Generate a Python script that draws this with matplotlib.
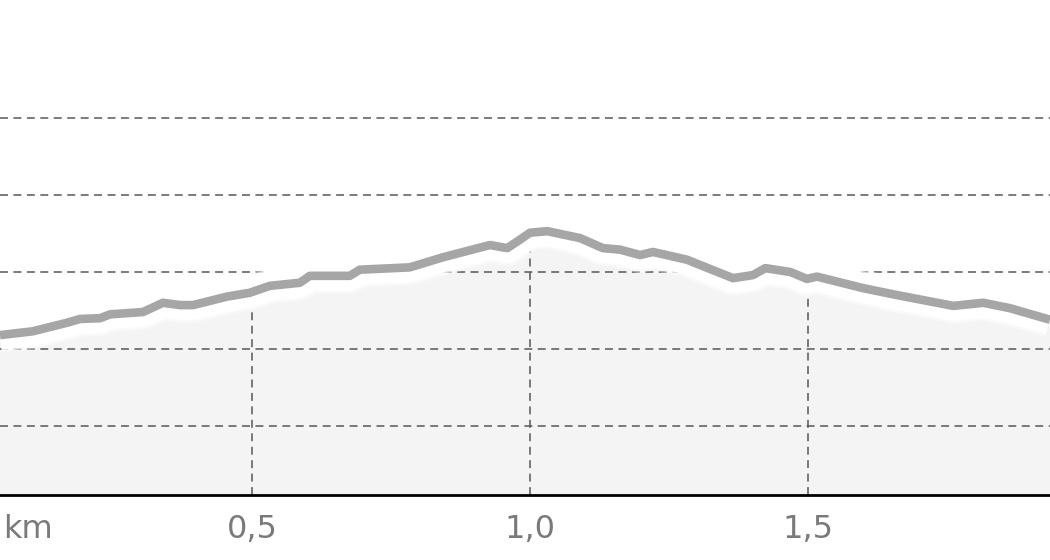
import numpy as np
import matplotlib
matplotlib.use("Agg")
import matplotlib.pyplot as plt

# elevation profile (distance in km, elevation in m)
dist_km = [0.047, 0.106, 0.167, 0.191, 0.227, 0.245, 0.304, 0.340, 0.371, 0.394,
           0.455, 0.496, 0.532, 0.586, 0.604, 0.676, 0.694, 0.784, 0.843, 0.928,
           0.959, 0.982, 1.000, 1.031, 1.090, 1.131, 1.162, 1.198, 1.221, 1.282,
           1.365, 1.401, 1.423, 1.468, 1.498, 1.516, 1.599, 1.660, 1.761, 1.815,
           1.863, 1.935]
elev_m = [111.8, 112.3, 113.4, 113.9, 114.0, 114.5, 114.8, 116.0, 115.7, 115.7,
          116.8, 117.3, 118.2, 118.6, 119.5, 119.5, 120.3, 120.6, 121.9, 123.5,
          123.1, 124.2, 125.1, 125.3, 124.4, 123.1, 122.9, 122.2, 122.6, 121.6,
          119.2, 119.6, 120.5, 120.0, 119.1, 119.4, 117.9, 117.0, 115.6, 116.0,
          115.3, 113.8]

grid_y = [100, 110, 120, 130, 140]
grid_x = [0.5, 1.0, 1.5]
tick_labels = ["0,5", "1,0", "1,5"]

XMIN, XMAX = 0.047, 1.935
YMIN, YMAX = 91.04, 155.32

fig = plt.figure(figsize=(10.5, 5.6), dpi=100)
ax = fig.add_axes([0, 65 / 560, 1, 495 / 560])
ax.set_xlim(XMIN, XMAX)
ax.set_ylim(YMIN, YMAX)

x = np.array(dist_km)
y = np.array(elev_m)

ax.fill_between(x, YMIN, y, color="#f4f4f4", lw=0, zorder=1)

dash = dict(color="#575757", lw=1.1, linestyle=(0, (5.2, 3.6)), zorder=2)
for gy in grid_y:
    ax.axhline(gy, **dash)
# vertical grid only below the profile
for gx in grid_x:
    ax.plot([gx, gx], [YMIN, np.interp(gx, x, y)], **dash)

# soft white halo around the profile line, then the line itself
for w, a in [(26, 0.35), (23.5, 0.6), (21, 1.0)]:
    ax.plot(x, y, color="white", lw=w, alpha=a, solid_capstyle="butt",
            solid_joinstyle="round", zorder=3)
ax.plot(x, y, color="#a6a6a6", lw=6.2, solid_capstyle="butt",
        solid_joinstyle="round", zorder=4)

for s in ["top", "left", "right"]:
    ax.spines[s].set_visible(False)
ax.spines["bottom"].set_color("black")
ax.spines["bottom"].set_linewidth(2)
ax.spines["bottom"].set_zorder(5)

ax.set_yticks([])
ax.set_xticks(grid_x)
ax.set_xticklabels(tick_labels)
ax.tick_params(axis="x", length=0, pad=14, labelsize=23, labelcolor="#7a7a7a")
ax.annotate("km", xy=(0, 0), xycoords="axes fraction", xytext=(2, -14),
            textcoords="offset points", ha="left", va="top",
            fontsize=23, color="#7a7a7a")

fig.savefig("out.png", dpi=100)
